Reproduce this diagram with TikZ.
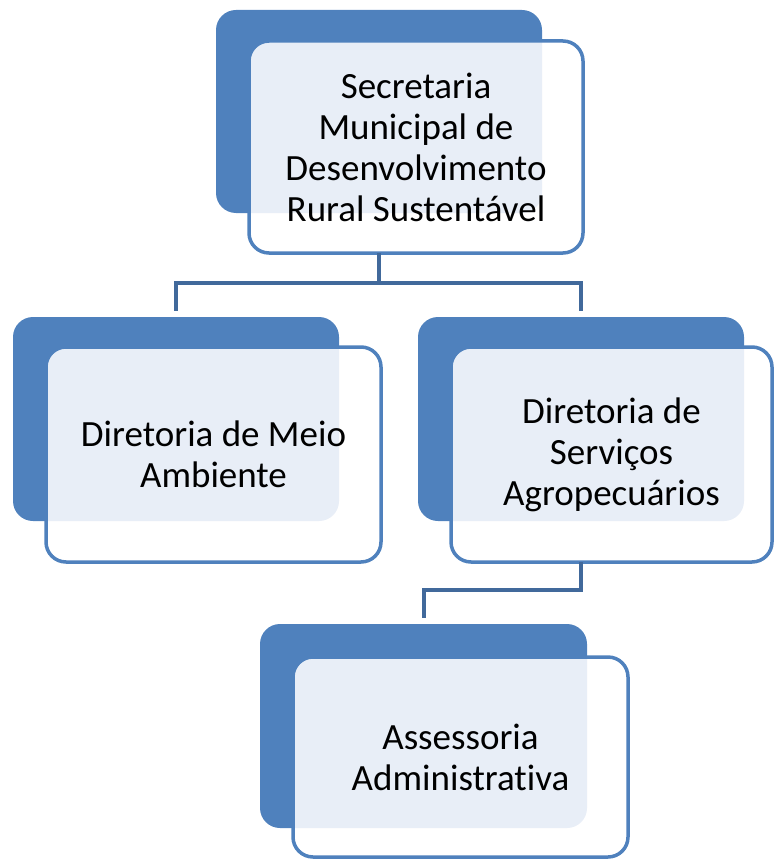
\documentclass[tikz,border=0pt]{standalone}
\usepackage{fontspec}
\setmainfont{Carlito}[Ligatures={NoCommon}]
\definecolor{boxblue}{HTML}{4F81BD}
\definecolor{linkblue}{HTML}{41699B}
\definecolor{overlapfill}{HTML}{E8EEF7}
\tikzset{
  backbox/.style={fill=boxblue, rounded corners=20pt, inner sep=0pt, outer sep=0pt},
  frontbox/.style={fill=white, draw=boxblue, line width=3.5pt, rounded corners=20pt,
    inner sep=0pt, outer sep=0pt, align=center,
    font=\fontsize{37}{41}\selectfont},
  link/.style={draw=linkblue, line width=4pt},
}
\newcommand{\overlapwith}[1]{\fill[overlapfill, rounded corners=20pt] (#1.south west) rectangle (#1.north east);}
\begin{document}
\begin{tikzpicture}[x=1pt, y=-1pt]
\useasboundingbox (0,0) rectangle (775,861);
% connectors
\coordinate (h1) at (0,283);
\coordinate (h2) at (0,590);
% top
\node[backbox, minimum width=326pt, minimum height=203pt] (topback) at (379,111.5) {};
\node[backbox, minimum width=326pt, minimum height=204pt] (leftback) at (176,419) {};
\node[backbox, minimum width=326pt, minimum height=204pt] (rightback) at (581,419) {};
\node[backbox, minimum width=327pt, minimum height=204pt] (botback) at (423.5,726) {};
\node[frontbox, minimum width=334pt, minimum height=212pt,
  path picture={\overlapwith{topback}}] (top) at (416,147)
  {Secretaria\\Municipal de\\Desenvolvimento\\Rural Sustentável};
\node[frontbox, minimum width=335pt, minimum height=215pt,
  path picture={\overlapwith{leftback}}] (left) at (213.5,454.5)
  {Diretoria de Meio\\Ambiente};
\node[frontbox, minimum width=321pt, minimum height=215pt,
  path picture={\overlapwith{rightback}}] (right) at (611.5,454.5)
  {Diretoria de\\Serviços\\Agropecuários};
\node[frontbox, minimum width=335pt, minimum height=200pt,
  path picture={\overlapwith{botback}}] (bot) at (460.5,757)
  {Assessoria\\Administrativa};
\draw[link] (top.south -| topback.center) -- (h1 -| topback.center)
  -- (h1 -| leftback.center) -- ([yshift=6pt]leftback.north);
\draw[link] (h1 -| topback.center) -- (h1 -| rightback.center)
  -- ([yshift=6pt]rightback.north);
\draw[link] (right.south -| rightback.center) -- (h2 -| rightback.center)
  -- (h2 -| botback.center) -- ([yshift=6pt]botback.north);
\end{tikzpicture}
\end{document}
